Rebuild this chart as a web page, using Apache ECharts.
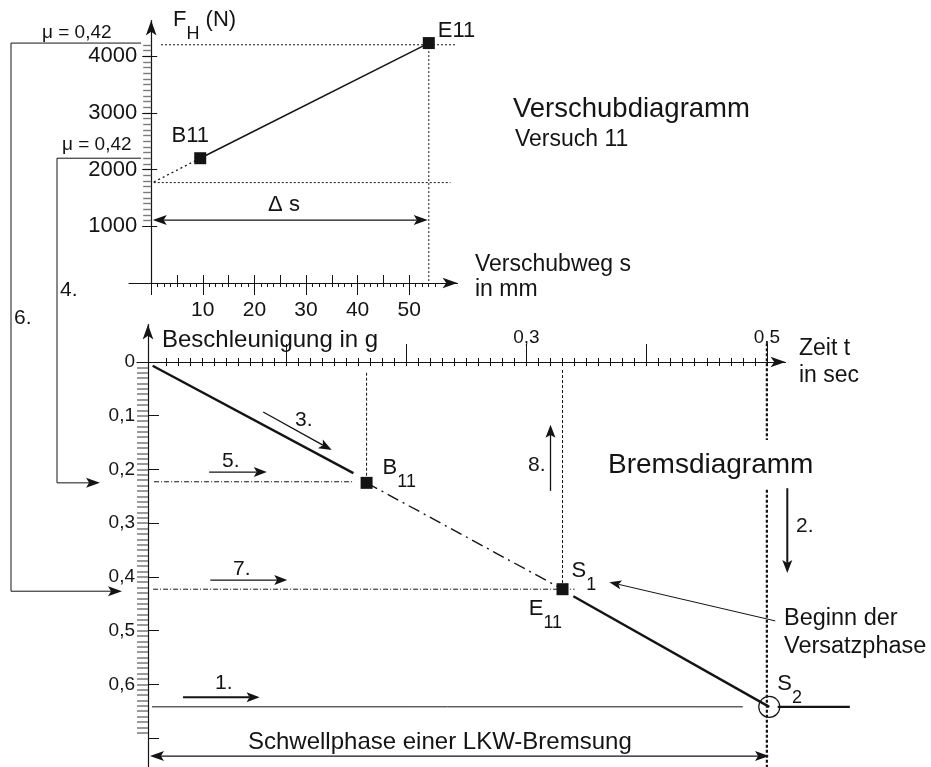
<!DOCTYPE html>
<html><head><meta charset="utf-8">
<script src="https://cdn.jsdelivr.net/npm/echarts@6/dist/echarts.min.js"></script>
<style>html,body{margin:0;padding:0;background:#fff}#c{width:931px;height:767px}</style>
</head><body><div id="c"></div>
<script>
// ---------- Verschubdiagramm, Versuch 11 ----------
const verschubPunkte = ['B11', 'E11'];
const verschubWegMm = [9.5, 53.8];
const verschubKraftN = [2200, 4230];
const extrapolWegMm = [0.5, 9.5];
const extrapolKraftN = [1780, 2200];
const deltaSKraftN = 1110;
const kraftTicks = [1000, 2000, 3000, 4000];
const wegTicks = [10, 20, 30, 40, 50];

// ---------- Bremsdiagramm ----------
const rampe1Zeit = [-0.011, 0.156];
const rampe1Verz = [0.007, 0.207];
const versuchZeit = [0.167, 0.330];      // B11, S1/E11
const versuchVerz = [0.225, 0.423];
const rampe2Zeit = [0.339, 0.502];
const rampe2Verz = [0.436, 0.642];
const endeZeit = [0.509, 0.569];
const endeVerz = [0.642, 0.642];
const s2Zeit = 0.502;
const s2Verz = 0.642;
const schwellEndeZeit = 0.5;
const verzTicks = [0, 0.1, 0.2, 0.3, 0.4, 0.5, 0.6];
const zeitTicks = [0.3, 0.5];
const muText = 'μ = 0,42';

const INK = '#141414', GREY = '#7a7a7a', FONT = 'Liberation Sans';
const zip = (a, b) => a.map((v, i) => [v, b[i]]);
const steps = (a, b, s) => { const r = []; const n = Math.round((b - a) / s); for (let i = 0; i <= n; i++) r.push(+(a + i * s).toFixed(4)); return r; };
const comma = v => String(v).replace('.', ',');
const plain = v => String(v);

const U = { left: 129, top: 20.5, width: 328.5, height: 262.5, xmin: -4.3, xmax: 59.36, ymin: 0, ymax: 4628, yOff: -22.2 };
const L = { left: 137, top: 324.5, width: 648.5, height: 442.5, xmin: -0.024, xmax: 0.5155, ymin: -0.0698, ymax: 0.754, xOff: -37.5, yOff: -11 };

function ax(extra) {
  return Object.assign({ type: 'value', splitLine: { show: false }, axisLine: { show: false, onZero: false },
    axisTick: { show: false }, axisLabel: { show: false } }, extra);
}
const arrowLine = { show: true, onZero: false, symbol: ['none', 'arrow'], symbolSize: [8, 15], lineStyle: { color: INK, width: 1.2 } };
const lbl = (o) => Object.assign({ show: true, interval: 0, color: INK, fontFamily: FONT, hideOverlap: false }, o);
const tk = (o) => Object.assign({ show: true, interval: 0 }, o);

const xAxis = [
  ax({ gridIndex: 0, position: 'bottom', min: U.xmin, max: U.xmax, axisLine: arrowLine,
    axisTick: tk({ customValues: steps(0, 55, 1.25), length: 4, lineStyle: { color: INK, width: 1 } }),
    axisLabel: lbl({ customValues: wegTicks, formatter: plain, margin: 17, fontSize: 21 }) }),
  ax({ gridIndex: 0, position: 'bottom', min: U.xmin, max: U.xmax,
    axisTick: tk({ inside: true, customValues: steps(0, 50, 5), length: 8, lineStyle: { color: INK } }) }),
  ax({ gridIndex: 0, position: 'bottom', min: U.xmin, max: U.xmax,
    axisTick: tk({ customValues: steps(0, 50, 10), length: 12, lineStyle: { color: INK } }) }),
  ax({ gridIndex: 1, position: 'top', offset: L.xOff, min: L.xmin, max: L.xmax, axisLine: arrowLine,
    axisTick: tk({ customValues: steps(0, 0.5, 0.01), length: 4, lineStyle: { color: INK } }),
    axisLabel: lbl({ customValues: zeitTicks, formatter: comma, margin: 15, fontSize: 19 }) }),
  ax({ gridIndex: 1, position: 'top', offset: L.xOff, min: L.xmin, max: L.xmax,
    axisTick: tk({ inside: true, customValues: steps(0, 0.5, 0.01), length: 4, lineStyle: { color: INK } }) }),
  ax({ gridIndex: 1, position: 'top', offset: L.xOff, min: L.xmin, max: L.xmax,
    axisTick: tk({ customValues: steps(0.1, 0.5, 0.1), length: 18, lineStyle: { color: INK } }) })
];
const yAxis = [
  ax({ gridIndex: 0, position: 'left', offset: U.yOff, min: U.ymin, max: U.ymax, axisLine: arrowLine,
    axisTick: tk({ customValues: steps(1100, 4200, 100), length: 8, lineStyle: { color: GREY, width: 1.4 } }),
    axisLabel: lbl({ customValues: kraftTicks, formatter: plain, margin: 14, fontSize: 22 }) }),
  ax({ gridIndex: 0, position: 'left', offset: U.yOff, min: U.ymin, max: U.ymax,
    axisTick: tk({ customValues: kraftTicks, length: 9, lineStyle: { color: INK } }) }),
  ax({ gridIndex: 0, position: 'left', offset: U.yOff, min: U.ymin, max: U.ymax,
    axisTick: tk({ inside: true, customValues: kraftTicks, length: 6, lineStyle: { color: INK } }) }),
  ax({ gridIndex: 1, position: 'left', offset: L.yOff, inverse: true, min: L.ymin, max: L.ymax, axisLine: arrowLine,
    axisTick: tk({ customValues: steps(0.01, 0.69, 0.01), length: 11, lineStyle: { color: GREY, width: 1.5 } }),
    axisLabel: lbl({ customValues: verzTicks, formatter: comma, margin: 13, fontSize: 19 }) }),
  ax({ gridIndex: 1, position: 'left', offset: L.yOff, inverse: true, min: L.ymin, max: L.ymax,
    axisTick: tk({ inside: true, customValues: steps(0.1, 0.7, 0.1), length: 11, lineStyle: { color: INK } }) })
];

const UA = { xAxisIndex: 0, yAxisIndex: 0 }, LA = { xAxisIndex: 3, yAxisIndex: 3 };
const series = [];
function seg(a, data, style) {
  series.push(Object.assign({ type: 'line', data, symbol: 'none', silent: true, z: 3, clip: false,
    lineStyle: Object.assign({ color: INK, width: 1 }, style) }, a));
}
const dotted = { type: [2, 2], width: 1 };
// upper
seg(UA, zip(verschubWegMm, verschubKraftN), { width: 1.5 });
seg(UA, zip(extrapolWegMm, extrapolKraftN), { type: [2, 3], width: 1.3 });
seg(UA, [[1.9, verschubKraftN[1] - 30], [59.1, verschubKraftN[1] - 30]], dotted);
seg(UA, [[extrapolWegMm[0], extrapolKraftN[0] - 10], [58, extrapolKraftN[0] - 10]], dotted);
seg(UA, [[verschubWegMm[1], verschubKraftN[1]], [verschubWegMm[1], 0]], dotted);
// lower
seg(LA, zip(rampe1Zeit, rampe1Verz), { width: 2.4 });
seg(LA, zip(versuchZeit, versuchVerz), { type: [12, 5, 2, 5], width: 1.4 });
seg(LA, zip(rampe2Zeit, rampe2Verz), { width: 2.4 });
seg(LA, [[versuchZeit[0], 0.02], [versuchZeit[0], versuchVerz[0]]], { type: [3, 2] });
seg(LA, [[versuchZeit[1], 0.015], [versuchZeit[1], versuchVerz[1]]], { type: [3, 2] });
seg(LA, [[-0.0098, versuchVerz[0] - 0.002], [0.156, versuchVerz[0] - 0.002]], { type: [5, 2, 1, 2] });
seg(LA, [[-0.0106, versuchVerz[1]], [0.340, versuchVerz[1]]], { type: [5, 2, 1, 2] });
seg(LA, [[schwellEndeZeit, -0.035], [schwellEndeZeit, 0.145]], { type: [3, 2], width: 2.2 });
seg(LA, [[schwellEndeZeit, 0.238], [schwellEndeZeit, 0.754]], { type: [3, 2], width: 2.2 });
seg(LA, [[-0.0115, s2Verz], [0.480, s2Verz]], { width: 1 });

const richSub = {
  b: { fontSize: 22, fontFamily: FONT, color: INK, lineHeight: 24, verticalAlign: 'top' },
  s: { fontSize: 18, fontFamily: FONT, color: INK, lineHeight: 20, verticalAlign: 'bottom' },
  h: { fontSize: 1, lineHeight: 34 }
};
series.push(Object.assign({ type: 'scatter', symbol: 'rect', symbolSize: 12, itemStyle: { color: INK, opacity: 1 }, z: 5, silent: true,
  label: { show: true, formatter: '{b}', fontSize: 22, fontFamily: FONT, color: INK },
  data: verschubPunkte.map((n, i) => ({ name: n, value: [verschubWegMm[i], verschubKraftN[i]],
    label: i === 0 ? { position: 'top', distance: 5, offset: [-10, 0] } : { position: 'right', distance: 3, offset: [0, -12] } })) }, UA));
series.push(Object.assign({ type: 'scatter', symbol: 'rect', symbolSize: 12, itemStyle: { color: INK, opacity: 1 }, z: 5, silent: true,
  label: { show: true, rich: richSub },
  data: [
    { value: [versuchZeit[0], versuchVerz[0]], label: { formatter: '{b|B}{s|11}{h| }', position: 'right', distance: 10, offset: [0, -9] } },
    { value: [versuchZeit[1], versuchVerz[1]], label: { formatter: '{b|S}{s|1}{h| }', position: 'right', distance: 3, offset: [0, -12] } }
  ] }, LA));
series.push(Object.assign({ type: 'scatter', symbolSize: 0, z: 5, silent: true, itemStyle: { opacity: 1 },
  label: { show: true, rich: richSub },
  data: [{ value: [versuchZeit[1], versuchVerz[1]], label: { formatter: '{b|E}{s|11}{h| }', position: 'bottom', distance: 9, offset: [-17, 0] } }] }, LA));
series.push(Object.assign({ type: 'scatter', symbol: 'circle', symbolSize: 21, z: 5, silent: true, clip: false,
  itemStyle: { color: 'rgba(0,0,0,0)', borderColor: INK, borderWidth: 1.2, opacity: 1 },
  label: { show: true, rich: richSub },
  data: [{ value: [s2Zeit, s2Verz], label: { formatter: '{b|S}{s|2}{h| }', position: 'right', distance: 0, offset: [-3, -17] } }] }, LA));

const option = {
  animation: false,
  backgroundColor: '#fff',
  grid: [
    { left: U.left, top: U.top, width: U.width, height: U.height, containLabel: false, outerBoundsMode: 'none' },
    { left: L.left, top: L.top, width: L.width, height: L.height, containLabel: false, outerBoundsMode: 'none' }
  ],
  xAxis, yAxis, series
};
const chart = echarts.init(document.getElementById('c'));
chart.setOption(option);

// ---------- annotations (arrows, connectors, texts) ----------
const pU = (x, y) => chart.convertToPixel({ xAxisIndex: 0, yAxisIndex: 0 }, [x, y]);
const pL = (x, y) => chart.convertToPixel({ xAxisIndex: 3, yAxisIndex: 3 }, [x, y]);
const g = [];
function head(tip, from, Lh, W) {
  const dx = tip[0] - from[0], dy = tip[1] - from[1], len = Math.hypot(dx, dy);
  const ux = dx / len, uy = dy / len, nx = -uy, ny = ux;
  const base = [tip[0] - ux * Lh, tip[1] - uy * Lh];
  const notch = [tip[0] - ux * Lh * 0.78, tip[1] - uy * Lh * 0.78];
  g.push({ type: 'polygon', z: 20, silent: true, shape: { points: [tip, [base[0] + nx * W / 2, base[1] + ny * W / 2], notch, [base[0] - nx * W / 2, base[1] - ny * W / 2]] }, style: { fill: INK } });
  return notch;
}
function arrow(p0, p1, lw, Lh, W, both) {
  Lh = Lh || 13; W = W || 10;
  const e = head(p1, p0, Lh, W);
  const s = both ? head(p0, p1, Lh, W) : p0;
  g.push({ type: 'line', z: 19, silent: true, shape: { x1: s[0], y1: s[1], x2: e[0], y2: e[1] }, style: { stroke: INK, lineWidth: lw || 1.3 } });
}
function poly(pts, lw) { g.push({ type: 'polyline', z: 19, silent: true, shape: { points: pts }, style: { stroke: INK, lineWidth: lw || 1, fill: null } }); }
function txt(text, x, y, size, align) {
  g.push({ type: 'text', x, y, z: 21, silent: true, style: { text, fontSize: size, fontFamily: FONT, fill: INK, align: align || 'left', verticalAlign: 'middle' } });
}
function rich(text, x, y) {
  g.push({ type: 'text', x, y, z: 21, silent: true, style: { text, fontFamily: FONT, fill: INK, align: 'left', verticalAlign: 'top',
    rich: { b: { fontSize: 22, fontFamily: FONT, fill: INK, lineHeight: 24, verticalAlign: 'top' }, s: { fontSize: 18, fontFamily: FONT, fill: INK, lineHeight: 20, verticalAlign: 'bottom' }, h: { fontSize: 1, lineHeight: 34 } } } });
}

// plateau after S2 (beyond the time-axis end, so drawn unclipped through the axis scale)
poly(zip(endeZeit, endeVerz).map(p => pL(p[0], p[1])), 2.4);

// lower step arrows (data coordinates of the Bremsdiagramm)
const pfeile = [
  { von: [0.081, 0.093], nach: [0.138, 0.164], lw: 1.3 },
  { von: [0.036, 0.205], nach: [0.084, 0.205], lw: 1.3 },
  { von: [0.320, 0.240], nach: [0.320, 0.117], lw: 1.3 },
  { von: [0.517, 0.235], nach: [0.517, 0.393], lw: 2 },
  { von: [0.037, 0.406], nach: [0.101, 0.406], lw: 1.3 },
  { von: [0.0143, 0.624], nach: [0.078, 0.624], lw: 2 },
  { von: [0.507, 0.482], nach: [0.369, 0.410], lw: 1, Lh: 12, W: 9 }
];
pfeile.forEach(p => arrow(pL(p.von[0], p.von[1]), pL(p.nach[0], p.nach[1]), p.lw, p.Lh, p.W));
arrow(pL(-0.0132, 0.7337), pL(0.5018, 0.7337), 1.3, 14, 10, true);
arrow(pU(0.3, deltaSKraftN), pU(53.6, deltaSKraftN), 1.3, 14, 10, true);

// connectors from the Verschubdiagramm (mu = 0,42) down to the Bremsdiagramm
const yE = pU(0, verschubKraftN[1])[1], yB = pU(0, verschubKraftN[0])[1];
const yS = pL(0, versuchVerz[1])[1] + 2, yBl = pL(0, versuchVerz[0])[1];
poly([[141, yE], [11, yE], [11, yS], [112, yS]]);
head([122, yS], [11, yS], 14, 10);
poly([[141, yB], [57, yB], [57, yBl], [90, yBl]]);
head([100, yBl], [57, yBl], 14, 10);

// texts
rich('{b|F}{s|H}{b| (N)}{h| }', 173, 9);
txt(muText, 42, 33, 19);
txt(muText, 62, 145, 19);
txt('Verschubdiagramm', 513, 109, 27.5);
txt('Versuch 11', 515, 139.5, 23);
txt('Verschubweg s', 475, 265, 23);
txt('in mm', 475, 290, 23);
txt('4.', 60, 290, 21);
txt('6.', 14, 318, 21);
txt('Δ s', 284, 205, 22, 'center');
txt('Beschleunigung in g', 162, 340, 24);
txt('Zeit t', 799, 349, 23);
txt('in sec', 799, 376, 23);
txt('Bremsdiagramm', 608, 465, 28);
txt('Beginn der', 784, 619, 23.5);
txt('Versatzphase', 784, 647, 23.5);
txt('Schwellphase einer LKW-Bremsung', 248, 742, 24);
txt('1.', 215, 683, 21);
txt('3.', 295, 420, 21);
txt('5.', 222, 461, 21);
txt('7.', 233, 569, 21);
txt('8.', 528, 465, 21);
txt('2.', 796, 526, 21);

chart.setOption({ graphic: { elements: g } });
</script>
</body></html>
